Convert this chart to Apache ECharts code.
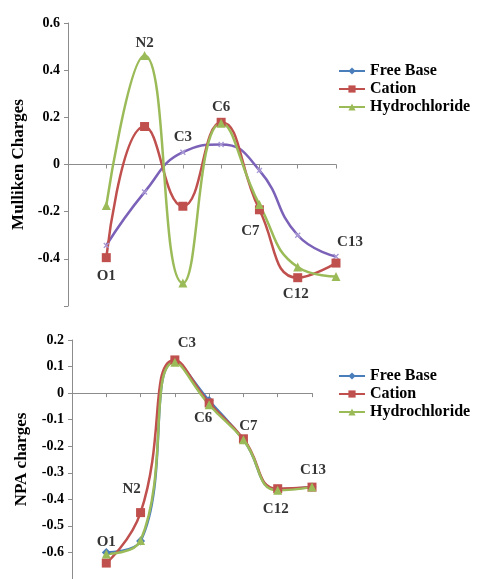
<!DOCTYPE html>
<html>
<head>
<meta charset="utf-8">
<script src="https://cdn.jsdelivr.net/npm/echarts@6/dist/echarts.min.js"></script>
<style>html,body{margin:0;padding:0;background:#fff}#c{width:480px;height:579px}</style>
</head>
<body>
<div id="c"></div>
<script>
const atoms = ['O1', 'N2', 'C3', 'C6', 'C7', 'C12', 'C13'];
const seriesNames = ['Free Base', 'Cation', 'Hydrochloride'];
const mullikenFreeBase = [-0.343, -0.117, 0.052, 0.085, -0.025, -0.300, -0.390];
const mullikenCation = [-0.395, 0.161, -0.177, 0.179, -0.192, -0.480, -0.418];
const mullikenHydrochloride = [-0.174, 0.462, -0.503, 0.175, -0.170, -0.435, -0.475];
const npaFreeBase = [-0.600, -0.557, 0.120, -0.028, -0.176, -0.362, -0.354];
const npaCation = [-0.640, -0.450, 0.125, -0.037, -0.172, -0.360, -0.354];
const npaHydrochloride = [-0.606, -0.555, 0.116, -0.044, -0.176, -0.366, -0.354];

// which series each atom label sits next to, and label offsets (style)
const mullikenLabelAnchor = [1, 2, 0, 1, 1, 1, 0];
const mullikenLabelOffset = [[0, 18], [0, -12], [0, -15], [0, -15], [-9, 21], [-2, 16], [14, -14]];
const npaLabelAnchor = [0, 1, 1, 0, 1, 2, 0];
const npaLabelOffset = [[0, -10], [-9, -23], [12, -17], [-6, 18], [5, -13], [-2, 19], [1, -17]];

const FONT = '"Liberation Serif", "Times New Roman", serif';
const BLUE = '#4a7ebb', RED = '#c0504d', GREEN = '#9bbb59', PURPLE = '#7b62b8';
const AXIS = '#8c8c8c';
const xMark = 'path://M4,0H6V4H10V6H6V10H4V6H0V4H4Z';

function pts(arr) { return arr.map((v, i) => [i + 1, v]); }

function labelData(sets, anchor, offsets) {
  return atoms.map((a, i) => ({
    value: [i + 1, sets[anchor[i]][i]],
    name: a,
    label: { offset: offsets[i] }
  }));
}

function xAxisCfg(gi) {
  return {
    type: 'value', gridIndex: gi, min: 0, max: 7, interval: 1,
    axisLine: { onZero: true, lineStyle: { color: AXIS, width: 1 } },
    axisTick: { show: true, length: 4, lineStyle: { color: AXIS } },
    axisLabel: { show: false }, splitLine: { show: false }
  };
}
function yAxisCfg(gi, min, max, name, gap, hideVal) {
  return {
    type: 'value', gridIndex: gi, min: min, max: max, interval: gi === 0 ? 0.2 : 0.1,
    name: name, nameLocation: 'middle', nameGap: gap, nameRotate: 90,
    nameTextStyle: { fontFamily: FONT, fontWeight: 'bold', fontSize: 17, color: '#000' },
    axisLine: { show: true, lineStyle: { color: AXIS, width: 1 } },
    axisTick: { show: true, length: 4, lineStyle: { color: AXIS } },
    axisLabel: {
      fontFamily: FONT, fontWeight: 'bold', fontSize: 14, color: '#000', margin: 8,
      formatter: v => (Math.abs(v - hideVal) < 1e-6 ? '' : String(Math.round(v * 10) / 10))
    },
    splitLine: { show: false }
  };
}

function lineSeries(name, data, gi, color, symbol, size, lineColor, extra) {
  return Object.assign({
    name: name, type: 'line', xAxisIndex: gi, yAxisIndex: gi,
    data: pts(data), smooth: 0.5, symbol: symbol, symbolSize: size,
    lineStyle: { color: lineColor || color, width: 2.5 },
    itemStyle: { color: color },
    z: 3
  }, extra || {});
}

function labelSeries(gi, data) {
  return {
    type: 'scatter', xAxisIndex: gi, yAxisIndex: gi, symbolSize: 0, silent: true, z: 10,
    data: data,
    label: {
      show: true, position: 'inside', formatter: p => p.name,
      fontFamily: FONT, fontWeight: 'bold', fontSize: 15, color: '#000'
    }
  };
}

function legendCfg(top) {
  return {
    orient: 'vertical', left: 333, top: top, itemGap: 2, itemWidth: 26, itemHeight: 9,
    selectedMode: false, data: seriesNames,
    textStyle: { fontFamily: FONT, fontWeight: 'bold', fontSize: 16, color: '#000' }
  };
}

const chart = echarts.init(document.getElementById('c'), null, { renderer: 'canvas' });
chart.setOption({
  animation: false,
  backgroundColor: '#fff',
  grid: [
    { left: 68, top: 23, width: 268, height: 283 },
    { left: 72, top: 340, width: 240, height: 244 }
  ],
  legend: [legendCfg(58), legendCfg(363)],
  xAxis: [xAxisCfg(0), xAxisCfg(1)],
  yAxis: [
    yAxisCfg(0, -0.6, 0.6, 'Mulliken Charges', 38, -0.6),
    yAxisCfg(1, -0.7, 0.2, 'NPA charges', 42, -0.7)
  ],
  series: [
    // NPA chart first so both legends take the blue-diamond Free Base look
    lineSeries('Free Base', npaFreeBase, 1, BLUE, 'diamond', 9),
    lineSeries('Cation', npaCation, 1, RED, 'rect', 9),
    lineSeries('Hydrochloride', npaHydrochloride, 1, GREEN, 'triangle', 9),
    labelSeries(1, labelData([npaFreeBase, npaCation, npaHydrochloride], npaLabelAnchor, npaLabelOffset)),
    lineSeries('Free Base', mullikenFreeBase, 0, '#a899d4', xMark, 7, PURPLE, { symbolRotate: 45 }),
    lineSeries('Cation', mullikenCation, 0, RED, 'rect', 9),
    lineSeries('Hydrochloride', mullikenHydrochloride, 0, GREEN, 'triangle', 9),
    labelSeries(0, labelData([mullikenFreeBase, mullikenCation, mullikenHydrochloride], mullikenLabelAnchor, mullikenLabelOffset))
  ]
});
</script>
</body>
</html>
